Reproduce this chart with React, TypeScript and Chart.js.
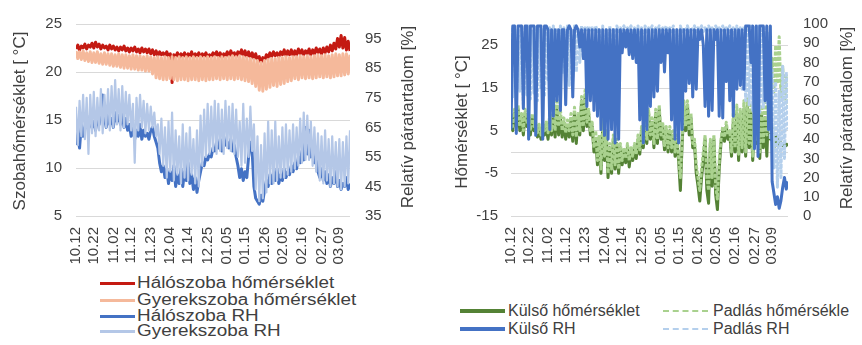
import { useEffect, useRef } from 'react';
import { Chart, registerables } from 'chart.js';

Chart.register(...registerables);

const FONT = '"Liberation Sans", Arial, sans-serif';
const TXT = '#404040';

// x-axis tick positions (day index from 10.12) and labels
const tickIdx = [0, 10, 21, 31, 42, 53, 63, 74, 85, 95, 106, 116, 127, 138, 148];
const tickLabels = ['10.12', '10.22', '11.02', '11.12', '11.23', '12.04', '12.14', '12.25', '01.05', '01.15', '01.26', '02.05', '02.16', '02.27', '03.09'];

// left chart axis ticks
const roomTempTicks = [5, 10, 15, 20, 25];
const roomRhTicks = [35, 45, 55, 65, 75, 85, 95];
// right chart axis ticks
const outTempTicks = [-15, -5, 5, 15, 25];
const outRhTicks = [0, 10, 20, 30, 40, 50, 60, 70, 80, 90, 100];

// ---- Left chart series (daily samples) ----
const halTemp = [
  22.4, 22.8, 22.3, 22.7, 22.5, 22.9, 22.4, 22.8, 22.6, 23.0,
  22.5, 23.1, 22.6, 22.9, 22.4, 22.8, 22.5, 22.7, 22.3, 22.8,
  22.4, 22.7, 22.3, 22.6, 22.2, 22.6, 22.3, 22.7, 22.2, 22.5,
  22.1, 22.5, 22.2, 22.6, 22.1, 22.4, 22.0, 22.5, 22.1, 22.4,
  22.0, 22.4, 21.9, 22.3, 21.8, 22.2, 21.7, 22.1, 21.8, 22.0,
  21.7, 22.1, 21.6, 21.9, 18.9, 21.8, 21.6, 22.0, 21.5, 21.9,
  21.6, 22.0, 21.5, 21.9, 21.6, 22.1, 21.5, 21.9, 21.6, 22.0,
  21.5, 21.9, 21.6, 22.0, 21.5, 21.8, 21.6, 22.0, 21.7, 22.1,
  21.6, 22.0, 21.5, 21.9, 21.7, 22.1, 21.6, 22.2, 21.7, 22.0,
  21.6, 22.1, 21.8, 22.3, 21.7, 22.2, 21.6, 22.1, 21.5, 22.0,
  21.4, 21.9, 21.2, 21.6, 21.0, 21.5, 21.2, 21.8, 21.5, 22.0,
  21.6, 22.1, 21.7, 22.0, 21.6, 22.1, 21.8, 22.3, 21.7, 22.2,
  21.8, 22.3, 21.7, 22.2, 21.8, 22.4, 21.9, 22.3, 21.8, 22.2,
  21.9, 22.4, 21.8, 22.3, 21.9, 22.5, 22.0, 22.4, 21.9, 22.5,
  22.0, 22.6, 22.1, 22.8, 22.2, 23.0, 22.4, 23.5, 22.6, 23.8,
  22.5, 23.6, 22.3, 23.2, 22.2,
];
const gyTemp = [
  22.2, 21.4, 22.1, 21.3, 22.2, 21.2, 22.0, 21.1, 22.1, 21.0,
  22.0, 21.0, 22.1, 20.9, 21.9, 20.8, 22.0, 20.8, 21.9, 20.7,
  21.9, 20.6, 21.8, 20.6, 21.9, 20.5, 21.8, 20.4, 21.8, 20.4,
  21.7, 20.3, 21.8, 20.3, 21.7, 20.2, 21.7, 20.2, 21.6, 20.1,
  21.7, 20.1, 21.6, 19.8, 21.5, 19.4, 21.6, 19.3, 21.5, 19.2,
  21.6, 19.2, 21.5, 19.3, 21.6, 19.2, 21.5, 19.1, 21.6, 19.2,
  21.5, 19.2, 21.6, 19.1, 21.5, 19.2, 21.6, 19.2, 21.5, 19.1,
  21.6, 19.2, 21.5, 19.1, 21.6, 19.2, 21.5, 19.2, 21.6, 19.3,
  21.5, 19.2, 21.6, 19.3, 21.5, 19.2, 21.6, 19.3, 21.7, 19.2,
  21.6, 19.3, 21.7, 19.2, 21.6, 19.1, 21.5, 19.0, 21.4, 18.8,
  21.3, 18.5, 21.2, 18.1, 21.0, 18.0, 21.2, 18.2, 21.3, 18.4,
  21.4, 18.6, 21.4, 18.5, 21.5, 18.7, 21.5, 18.8, 21.6, 19.0,
  21.5, 19.1, 21.6, 19.3, 21.6, 19.2, 21.7, 19.4, 21.6, 19.3,
  21.7, 19.4, 21.6, 19.3, 21.7, 19.4, 21.8, 19.5, 21.7, 19.4,
  21.8, 19.5, 21.7, 19.4, 21.8, 19.5, 21.9, 19.6, 21.8, 19.6,
  21.9, 19.7, 21.9, 19.8, 21.8,
];
const halRH = [
  59, 63, 58, 66, 62, 65, 68, 64, 69, 65,
  67, 64, 68, 66, 70, 76, 68, 65, 69, 66,
  68, 65, 70, 67, 69, 66, 70, 65, 68, 64,
  66, 62, 65, 61, 64, 62, 66, 61, 64, 62,
  63, 61, 64, 65, 62, 60, 58, 53, 50, 52,
  48, 51, 46, 50, 47, 52, 45, 49, 46, 51,
  45, 50, 47, 53, 46, 49, 44, 48, 43, 47,
  50, 53, 52, 55, 54, 56, 55, 58, 57, 60,
  58, 61, 57, 62, 59, 60, 58, 61, 57, 59,
  55, 52, 48, 51, 47, 50, 48, 55, 60, 57,
  45, 41, 40, 39, 42, 40, 44, 47, 45, 49,
  46, 50, 47, 51, 46, 49, 47, 51, 48, 50,
  49, 52, 50, 53, 51, 55, 53, 57, 54, 65,
  56, 64, 55, 57, 53, 55, 50, 48, 51, 47,
  50, 46, 49, 45, 48, 46, 50, 45, 47, 44,
  46, 45, 48, 44, 46,
];
const gyRH = [
  72, 59, 74, 62, 76, 61, 75, 56, 76, 63,
  77, 62, 75, 64, 78, 63, 76, 65, 78, 64,
  79, 65, 81, 66, 78, 64, 79, 65, 77, 66,
  76, 64, 73, 53, 75, 64, 76, 65, 74, 63,
  73, 64, 72, 65, 70, 62, 66, 56, 68, 52,
  65, 48, 67, 50, 70, 47, 64, 49, 62, 46,
  66, 48, 63, 47, 65, 49, 61, 46, 64, 45,
  69, 52, 71, 55, 73, 56, 72, 57, 74, 56,
  73, 57, 71, 56, 74, 58, 72, 57, 73, 56,
  71, 55, 67, 52, 73, 53, 68, 55, 72, 57,
  66, 44, 62, 40, 59, 41, 63, 43, 67, 46,
  64, 46, 67, 47, 62, 48, 65, 48, 66, 49,
  64, 50, 66, 51, 65, 52, 68, 53, 70, 54,
  69, 54, 67, 52, 65, 50, 63, 47, 62, 46,
  64, 47, 61, 45, 62, 46, 60, 45, 61, 44,
  60, 45, 62, 46, 64,
];

// ---- Right chart series (daily samples) ----
const kulsoT = [
  8, 5, 9, 6, 10, 5, 8, 4, 9, 6,
  7, 4, 8, 5, 6, 3.5, 5.5, 3, 6, 4,
  5.5, 3, 7, 4, 9, 3.5, 10, 4, 8, 3.5,
  7, 3, 6, 3.5, 7.5, 2.5, 9, 2, 8, 4,
  12, 5, 13, 6, 9, 4, 6, 0, 3, -3,
  2, -5, 6, -2, 4, -6, 1, -5, 3, -4,
  2, -5, 1, -3, 0, -2.5, 1, -3.5, 0, -2,
  1, -1.5, 3, -0.5, 5, 1, 7, 2, 9, 3,
  7, 1, 9, 2, 10, 3, 6, 0.5, 5, 0,
  5, 0, 4, -1, 3, -2, -9, 2, 10, 5,
  11, 4, 8, 1, 2, -5, -8, -11.5, -6, -2,
  3, -9, -12, 2, -8, 3, -10, -13.5, -4, 2,
  5, 2.5, 6, 3, 4, -1, 7, 0, 9, -2,
  8, 0, 10, -1, 11, 1, 9, -2, 8, 2,
  7, -1.5, 9, 1, 8, -1, 10, 3, 6, 1,
  4, 1.5, 3, 2, 1.5, 2, 1.5, 2,
];
const padlasT = [
  9, 6, 10, 7, 11, 6, 9, 5, 10, 7,
  8, 5, 9, 6, 7, 4.5, 6.5, 4, 7, 5,
  7, 4.5, 9, 5, 11, 5, 12.5, 6, 10, 5,
  8, 4.5, 7.5, 5, 9, 4, 10.5, 3.5, 9, 5,
  13, 6, 14.5, 7, 10, 5, 7, 1, 5, -2,
  4, -4, 8, -1, 5, -5, 2, -4, 4, -3,
  3, -4, 2, -2, 1, -1.5, 2, -2, 1, -1,
  2, -0.5, 4, 0.5, 6, 2, 8, 3, 10, 4,
  8, 2, 10, 3, 11, 4, 7, 1.5, 6, 1,
  6, 1, 5, 0, 4, -1, -6, 3, 12, 6,
  12, 5, 9, 2, 3, -3, -6, -9, -4, 0,
  4, -6, -9, 3, -6, 4, -8, -11, -2, 3,
  6, 3.5, 7, 4, 5, 0, 9, 1, 11, -0.5,
  10, 1, 12, 0, 12.5, 2, 11, -1, 10, 3,
  9, 0, 11, 2, 13, 4, 17, 12, 22, 14,
  25, 16, 27, 13, 20, 12, 18, 10,
];
const kulsoRH = [
  45, 99, 99, 43, 99, 99, 99, 56, 99, 99,
  40, 99, 99, 99, 42, 99, 99, 99, 40, 99,
  99, 97, 45, 97, 52, 97, 60, 97, 55, 97,
  97, 58, 97, 99, 97, 62, 97, 99, 97, 88,
  97, 82, 97, 57, 97, 60, 97, 55, 97, 52,
  97, 45, 97, 42, 97, 40, 97, 45, 97, 38,
  97, 40, 97, 85, 97, 88, 97, 84, 97, 82,
  97, 80, 97, 50, 97, 38, 97, 45, 97, 57,
  97, 62, 97, 65, 97, 80, 97, 75, 97, 85,
  97, 50, 97, 40, 97, 38, 97, 45, 97, 65,
  97, 69, 97, 62, 97, 66, 97, 92, 97, 89,
  57, 97, 52, 97, 55, 97, 92, 97, 52, 97,
  51, 97, 70, 97, 60, 97, 52, 97, 66, 97,
  68, 97, 66, 99, 99, 99, 80, 99, 35, 99,
  31, 99, 99, 99, 60, 99, 45, 99, 18, 12,
  6, 10, 4, 8, 15, 20, 14, 18,
];
const padlasRH = [
  98, 62, 99, 60, 97, 65, 99, 58, 98, 63,
  99, 61, 97, 64, 99, 60, 98, 66, 97, 62,
  99, 70, 98, 75, 99, 72, 97, 78, 99, 74,
  98, 70, 99, 68, 97, 72, 99, 75, 98, 80,
  99, 96, 98, 97, 99, 96, 98, 97, 99, 96,
  98, 60, 99, 58, 97, 62, 99, 57, 98, 65,
  99, 96, 98, 97, 99, 96, 98, 97, 99, 96,
  98, 96, 99, 80, 98, 75, 99, 96, 98, 97,
  99, 96, 98, 97, 99, 96, 98, 97, 99, 96,
  98, 96, 99, 70, 97, 68, 99, 96, 98, 97,
  99, 96, 98, 97, 99, 96, 98, 97, 99, 96,
  98, 96, 99, 97, 98, 96, 99, 97, 98, 96,
  99, 96, 98, 97, 99, 80, 98, 78, 99, 72,
  98, 66, 99, 60, 97, 58, 99, 55, 98, 57,
  99, 54, 97, 56, 98, 59, 95, 40, 76, 25,
  70, 15, 65, 20, 78, 30, 75, 45,
];

const pts = (arr: number[]) => arr.map((v, i) => ({ x: i, y: v }));

const sideTitles = {
  id: 'sideTitles',
  afterDraw(chart: any, _args: any, opts: any) {
    const ctx = chart.ctx;
    for (const t of opts.items || []) {
      ctx.save();
      ctx.translate(t.x, t.y);
      ctx.rotate(-Math.PI / 2);
      ctx.font = `17px ${FONT}`;
      ctx.fillStyle = TXT;
      ctx.textAlign = 'center';
      ctx.textBaseline = 'middle';
      ctx.fillText(t.text, 0, 0);
      ctx.restore();
    }
  },
};

const tickFont = { size: 15, family: FONT };

function xScale(max: number) {
  return {
    type: 'linear',
    min: 0,
    max,
    grid: { display: false, drawTicks: false },
    border: { display: false },
    afterBuildTicks: (s: any) => {
      s.ticks = tickIdx.map((v) => ({ value: v }));
    },
    afterFit: (s: any) => {
      s.height = 56;
    },
    ticks: {
      autoSkip: false,
      maxRotation: 90,
      minRotation: 90,
      padding: 11,
      font: tickFont,
      color: TXT,
      callback: (v: number) => {
        const k = tickIdx.indexOf(v);
        return k >= 0 ? tickLabels[k] : '';
      },
    },
  };
}

function LeftChart() {
  const ref = useRef<HTMLCanvasElement>(null);
  useEffect(() => {
    const chart = new Chart(ref.current as HTMLCanvasElement, {
      type: 'line',
      data: {
        datasets: [
          { label: 'Hálószoba hőmérséklet', data: pts(halTemp), borderColor: '#C41A12', yAxisID: 'y', order: 4 },
          { label: 'Gyerekszoba hőmérséklet', data: pts(gyTemp), borderColor: '#F5B99B', yAxisID: 'y', order: 3 },
          { label: 'Hálószoba RH', data: pts(halRH), borderColor: '#4472C4', yAxisID: 'y1', order: 2 },
          { label: 'Gyerekszoba RH', data: pts(gyRH), borderColor: '#B4C7E7', borderWidth: 2.2, yAxisID: 'y1', order: 1 },
        ],
      } as any,
      options: {
        responsive: false,
        animation: false,
        layout: { padding: { top: 16, left: 0, right: 0, bottom: 0 } },
        elements: { point: { radius: 0 }, line: { borderWidth: 3, tension: 0, borderJoinStyle: 'round' } },
        plugins: {
          legend: { display: false },
          tooltip: { enabled: false },
          sideTitles: {
            items: [
              { text: 'Szobahőmérséklet [ °C]', x: 20, y: 121 },
              { text: 'Relatív páratartalom [%]', x: 408, y: 117 },
            ],
          },
        } as any,
        scales: {
          x: xScale(154),
          y: {
            position: 'left',
            min: 5,
            max: 25,
            afterBuildTicks: (s: any) => {
              s.ticks = roomTempTicks.map((v) => ({ value: v }));
            },
            afterFit: (s: any) => {
              s.width = 76;
            },
            grid: { color: '#D9D9D9', drawTicks: false },
            border: { display: false },
            ticks: { autoSkip: false, padding: 14, font: tickFont, color: TXT },
          },
          y1: {
            position: 'right',
            min: 35,
            max: 100,
            afterBuildTicks: (s: any) => {
              s.ticks = roomRhTicks.map((v) => ({ value: v }));
            },
            afterFit: (s: any) => {
              s.width = 80;
            },
            grid: { display: false, drawTicks: false },
            border: { display: false },
            ticks: { autoSkip: false, padding: 15, font: tickFont, color: TXT },
          },
        } as any,
      },
      plugins: [sideTitles as any],
    });
    return () => chart.destroy();
  }, []);
  return <canvas ref={ref} width={430} height={272} style={{ position: 'absolute', left: 0, top: 0 }} />;
}

function RightChart() {
  const ref = useRef<HTMLCanvasElement>(null);
  useEffect(() => {
    const chart = new Chart(ref.current as HTMLCanvasElement, {
      type: 'line',
      data: {
        datasets: [
          { label: 'Külső hőmérséklet', data: pts(kulsoT), borderColor: '#548235', yAxisID: 'y', order: 4 },
          { label: 'Padlás hőmérsékle', data: pts(padlasT), borderColor: '#A9D18E', borderWidth: 3, borderDash: [4, 1.5], yAxisID: 'y', order: 3 },
          { label: 'Külső RH', data: pts(kulsoRH), borderColor: '#4472C4', yAxisID: 'y1', order: 1 },
          { label: 'Padlás RH', data: pts(padlasRH), borderColor: '#B4CFEC', borderWidth: 3, borderDash: [4, 1.5], yAxisID: 'y1', order: 2 },
        ],
      } as any,
      options: {
        responsive: false,
        animation: false,
        layout: { padding: { top: 16, left: 0, right: 0, bottom: 0 } },
        elements: { point: { radius: 0 }, line: { borderWidth: 3, tension: 0, borderJoinStyle: 'round' } },
        plugins: {
          legend: { display: false },
          tooltip: { enabled: false },
          sideTitles: {
            items: [
              { text: 'Hőmérséklet [ °C]', x: 32, y: 122 },
              { text: 'Relatív páratartalom [%]', x: 417, y: 118 },
            ],
          },
        } as any,
        scales: {
          x: xScale(157),
          y: {
            position: 'left',
            min: -15,
            max: 30,
            afterBuildTicks: (s: any) => {
              s.ticks = [...outTempTicks, 0].sort((a, b) => a - b).map((v) => ({ value: v }));
            },
            afterFit: (s: any) => {
              s.width = 81;
            },
            grid: { color: '#D9D9D9', drawTicks: false },
            border: { display: false },
            ticks: {
              autoSkip: false,
              padding: 13,
              font: tickFont,
              color: TXT,
              callback: (v: number) => (outTempTicks.includes(v) ? String(v) : ''),
            },
          },
          y1: {
            position: 'right',
            min: 0,
            max: 100,
            afterBuildTicks: (s: any) => {
              s.ticks = outRhTicks.map((v) => ({ value: v }));
            },
            afterFit: (s: any) => {
              s.width = 74;
            },
            grid: { display: false, drawTicks: false },
            border: { display: false },
            ticks: { autoSkip: false, padding: 15, font: tickFont, color: TXT },
          },
        } as any,
      },
      plugins: [sideTitles as any],
    });
    return () => chart.destroy();
  }, []);
  return <canvas ref={ref} width={432} height={272} style={{ position: 'absolute', left: 430, top: 0 }} />;
}

type LegendItem = { text: string; color: string; x: number; y: number; w: number; thick: number; dashed?: boolean; textX: number; sx: number };

const legendItems: LegendItem[] = [
  { text: 'Hálószoba hőmérséklet', color: '#C41A12', x: 100, y: 283, w: 35, thick: 3, textX: 137, sx: 1.18 },
  { text: 'Gyerekszoba hőmérséklet', color: '#F5B99B', x: 100, y: 300, w: 35, thick: 3, textX: 137, sx: 1.18 },
  { text: 'Hálószoba RH', color: '#4472C4', x: 100, y: 316, w: 35, thick: 3, textX: 137, sx: 1.18 },
  { text: 'Gyerekszoba RH', color: '#B4C7E7', x: 100, y: 331, w: 35, thick: 3, textX: 137, sx: 1.18 },
  { text: 'Külső hőmérséklet', color: '#548235', x: 460, y: 311, w: 45, thick: 4, textX: 508, sx: 1 },
  { text: 'Külső RH', color: '#4472C4', x: 460, y: 329, w: 45, thick: 4, textX: 508, sx: 1 },
  { text: 'Padlás hőmérsékle', color: '#A9D18E', x: 663, y: 311, w: 45, thick: 2, dashed: true, textX: 713, sx: 1 },
  { text: 'Padlás RH', color: '#B4CFEC', x: 663, y: 329, w: 45, thick: 2, dashed: true, textX: 713, sx: 1 },
];

export default function App() {
  return (
    <div style={{ position: 'absolute', left: 0, top: 0, width: 862, height: 345, background: '#fff', overflow: 'hidden', fontFamily: FONT }}>
      <LeftChart />
      <RightChart />
      {legendItems.map((it) => (
        <div key={it.text}>
          <div
            style={{
              position: 'absolute',
              left: it.x,
              top: it.y - it.thick / 2,
              width: it.w,
              height: 0,
              borderTop: `${it.thick}px ${it.dashed ? 'dashed' : 'solid'} ${it.color}`,
            }}
          />
          <div
            style={{
              position: 'absolute',
              left: it.textX,
              top: it.y - 9,
              height: 18,
              lineHeight: '18px',
              fontSize: 16,
              color: TXT,
              whiteSpace: 'nowrap',
              transform: `scaleX(${it.sx})`,
              transformOrigin: 'left center',
            }}
          >
            {it.text}
          </div>
        </div>
      ))}
    </div>
  );
}
